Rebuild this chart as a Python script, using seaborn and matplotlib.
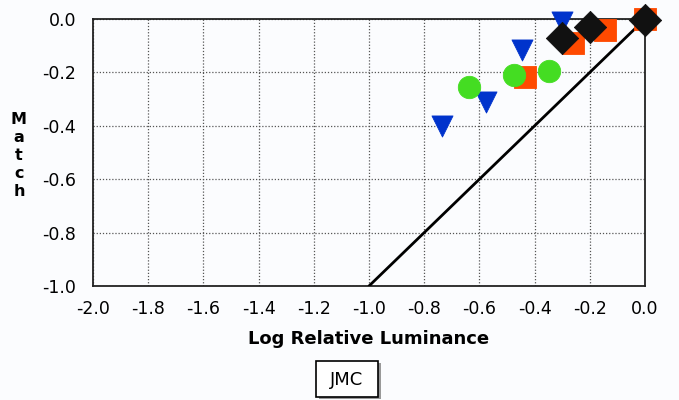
import matplotlib
matplotlib.use("Agg")
import matplotlib.pyplot as plt
import seaborn as sns
import pandas as pd
from matplotlib.patches import Rectangle

sns.set_style("white")
plt.rcParams['font.family'] = ['DejaVu Sans']
plt.rcParams['text.color'] = 'black'
plt.rcParams['axes.labelcolor'] = 'black'
plt.rcParams['xtick.color'] = 'black'
plt.rcParams['ytick.color'] = 'black'

# Data
orange_x = [0.0, -0.145, -0.26, -0.435]
orange_y = [0.0, -0.041, -0.09, -0.217]
blue_x = [-0.30, -0.445, -0.576, -0.735]
blue_y = [-0.01, -0.115, -0.31, -0.40]
green_x = [-0.637, -0.475, -0.348]
green_y = [-0.254, -0.21, -0.195]
black_x = [0.0, -0.20, -0.30]
black_y = [-0.005, -0.03, -0.07]
line_x = [-1.0, 0.0]
line_y = [-1.0, 0.0]
xticks = [-2.0, -1.8, -1.6, -1.4, -1.2, -1.0, -0.8, -0.6, -0.4, -0.2, 0.0]
yticks = [-1.0, -0.8, -0.6, -0.4, -0.2, 0.0]

fig = plt.figure(figsize=(6.79, 4.0), dpi=100)
fig.patch.set_facecolor('#fbfcfe')
ax = fig.add_axes([93/679, 1-286/400, (645-93)/679, (286-19)/400])
ax.set_facecolor('#fbfcfe')

sns.lineplot(x=line_x, y=line_y, ax=ax, color='black', lw=2, zorder=3)

def scat(xs, ys, marker, color, size, z):
    sns.scatterplot(x=xs, y=ys, ax=ax, marker=marker, color=color, s=size,
                    edgecolor=color, linewidth=0, zorder=z, clip_on=False)
    coll = ax.collections[-1]
    coll.set_edgecolor(color)
    coll.set_linewidth(0.6)

scat(orange_x, orange_y, 's', '#ff4a00', 250, 4)
scat(blue_x, blue_y, 'v', '#0033cc', 230, 5)
scat(green_x, green_y, 'o', '#44dd22', 260, 6)
scat(black_x, black_y, 'D', '#111111', 270, 7)

ax.set_xlim(-2.0, 0.0)
ax.set_ylim(-1.0, 0.0)
ax.set_xticks(xticks)
ax.set_yticks(yticks)
ax.set_xticklabels([f"{t:.1f}" for t in xticks])
ax.set_yticklabels([f"{t:.1f}" for t in yticks])
ax.tick_params(axis='both', direction='out', length=6, width=1.2, labelsize=12.5,
               colors='black')
ax.tick_params(axis='x', pad=4)
ax.tick_params(axis='y', pad=6)
ax.grid(True, linestyle=(0, (1, 1.5)), color='#555555', linewidth=0.9)
for s in ax.spines.values():
    s.set_color('#222222')
    s.set_linewidth(1.3)

ax.set_xlabel("Log Relative Luminance", fontsize=13, fontweight='bold', labelpad=9,
              color='black')
fig.text(19/679, 1-156/400, "M\na\nt\nc\nh", ha='center', va='center',
         fontsize=11.5, fontweight='bold', linespacing=1.25, color='black')

# legend-like box
fig.patches.append(Rectangle((319/679, 1-399/400), 62/679, 36/400, transform=fig.transFigure,
                             facecolor='#999999', edgecolor='none', zorder=1))
fig.patches.append(Rectangle((316/679, 1-397/400), 62/679, 36/400, transform=fig.transFigure,
                             facecolor='white', edgecolor='black', linewidth=1.2, zorder=2))
fig.text(347/679, 1-380/400, "JMC", ha='center', va='center', fontsize=13, zorder=3,
         color='black')

fig.savefig("out.png", dpi=100, facecolor=fig.get_facecolor())
